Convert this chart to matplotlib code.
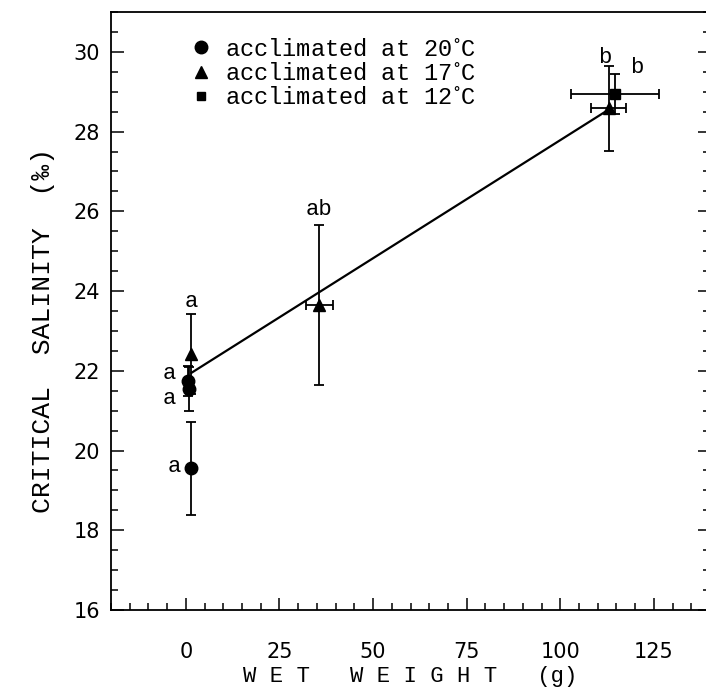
import matplotlib
matplotlib.use("Agg")
import matplotlib.pyplot as plt
from matplotlib.lines import Line2D
from matplotlib.ticker import MultipleLocator

plt.rcParams['mathtext.fontset'] = 'dejavuserif'

# ---- data ----
# acclimated at 20 C (circles)
c20_x = [0.5, 0.8, 1.3]
c20_y = [21.75, 21.55, 19.55]
c20_yerr = [0.38, 0.55, 1.17]

# acclimated at 17 C (triangles)
c17_x = [1.5, 35.6, 112.9]
c17_y = [22.43, 23.65, 28.58]
c17_yerr = [1.0, 2.0, 1.07]
c17_xerr = [0.0, 3.6, 4.7]

# acclimated at 12 C (squares)
c12_x = [114.7]
c12_y = [28.95]
c12_yerr = [0.5]
c12_xerr = [11.8]

# regression line
line_x = [1.5, 112.9]
line_y = [21.95, 28.55]

# significance letters
lab_x = [-4.5, -4.5, -3.2, 1.5, 35.6, 112.0, 120.5]
lab_y = [21.92, 21.3, 19.6, 23.75, 26.05, 29.85, 29.6]
lab_t = ["a", "a", "a", "a", "ab", "b", "b"]

legend_labels = [r"acclimated at 20$^{\circ}$C",
                 r"acclimated at 17$^{\circ}$C",
                 r"acclimated at 12$^{\circ}$C"]

xticks = [0, 25, 50, 75, 100, 125]
yticks = [16, 18, 20, 22, 24, 26, 28, 30]

# ---- figure ----
fig = plt.figure(figsize=(7.06, 6.88), dpi=100)
ax = fig.add_axes([111/706, 78/688, 599/706, 598/688])

mono = ["Liberation Mono", "DejaVu Sans Mono"]
lw = 1.3

ax.plot(line_x, line_y, color="black", lw=1.6, zorder=2)

ekw = dict(ecolor="black", elinewidth=lw, capsize=3.8, capthick=lw, color="black", zorder=3)
ax.errorbar(c20_x, c20_y, yerr=c20_yerr, fmt="o", ms=9, **ekw)
ax.errorbar(c17_x, c17_y, yerr=c17_yerr, xerr=c17_xerr, fmt="^", ms=8, **ekw)
ax.errorbar(c12_x, c12_y, yerr=c12_yerr, xerr=c12_xerr, fmt="s", ms=7, **ekw)

for x, y, t in zip(lab_x, lab_y, lab_t):
    ax.text(x, y, t, family=mono, fontsize=16, ha="center", va="center")

ax.set_xlim(-20, 140)
ax.set_ylim(16, 31)
ax.set_xticks(xticks)
ax.set_yticks(yticks)
ax.xaxis.set_minor_locator(MultipleLocator(5))
ax.yaxis.set_minor_locator(MultipleLocator(0.5))
ax.tick_params(which="both", direction="in", top=False, right=True, width=1.1)
ax.tick_params(which="major", length=9)
ax.tick_params(which="minor", length=5)
ax.tick_params(axis="x", which="major", pad=23, labelsize=15)
ax.tick_params(axis="y", which="major", pad=8, labelsize=15)
for s in ax.spines.values():
    s.set_linewidth(1.3)

ax.set_xlabel("W E T   W E I G H T   (g)", family=mono, fontsize=16, labelpad=3)
ax.set_ylabel("CRITICAL  SALINITY  (‰)", family=mono, fontsize=19)
ax.yaxis.set_label_coords(-0.094, 0.468)

handles = [Line2D([], [], color="black", marker="o", ls="none", ms=9),
           Line2D([], [], color="black", marker="^", ls="none", ms=8),
           Line2D([], [], color="black", marker="s", ls="none", ms=6)]
leg = ax.legend(handles, legend_labels, loc="upper left", bbox_to_anchor=(0.115, 0.973),
                frameon=False, handlelength=1.0, handletextpad=0.5, labelspacing=0.05,
                prop=dict(family=mono, size=17), borderaxespad=0)

fig.savefig("out.png", dpi=100)
